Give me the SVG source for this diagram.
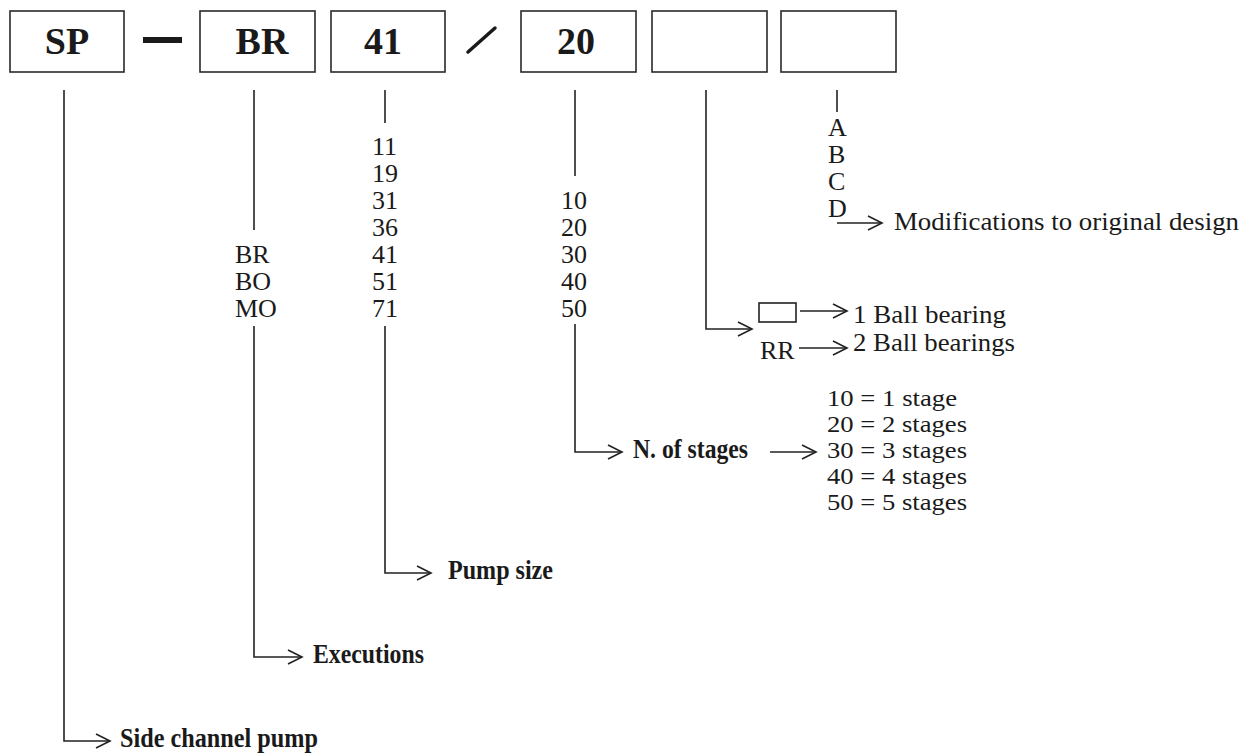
<svg xmlns="http://www.w3.org/2000/svg" width="1256" height="756" viewBox="0 0 1256 756">
<style>
.box{fill:#fff;stroke:#2a2a2a;stroke-width:1.6}
.bt{font-family:"Liberation Serif","Times New Roman",serif;font-weight:bold;font-size:38px;fill:#1a1a1a;text-anchor:middle}
.t{font-family:"Liberation Serif","Times New Roman",serif;font-size:26px;fill:#1a1a1a}
.s{font-family:"Liberation Serif","Times New Roman",serif;font-size:24px;fill:#1a1a1a}
.lb{font-family:"Liberation Serif","Times New Roman",serif;font-weight:bold;font-size:28px;fill:#1a1a1a}
.c{fill:none;stroke:#222;stroke-width:1.6}
</style>
<defs>
<marker id="ah" viewBox="-16 -9 18 18" refX="0" refY="0" markerWidth="18" markerHeight="18" orient="auto" markerUnits="userSpaceOnUse">
<path d="M-14,-7 L0,0 L-14,7" fill="none" stroke="#222" stroke-width="1.6"/>
</marker>
</defs>
<rect width="1256" height="756" fill="#fff"/>

<g id="box-sp"><rect class="box" x="10" y="11" width="114" height="61"/><text class="bt" x="67" y="54">SP</text></g>
<g id="sep-dash"><rect x="143" y="37" width="39" height="6" fill="#1a1a1a"/></g>
<g id="box-br"><rect class="box" x="200" y="11" width="115" height="61"/><text class="bt" x="262" y="54">BR</text></g>
<g id="box-41"><rect class="box" x="331" y="11" width="114" height="61"/><text class="bt" x="383" y="54">41</text></g>
<g id="sep-slash"><line x1="468" y1="52" x2="495" y2="28" stroke="#1a1a1a" stroke-width="3.5" stroke-linecap="round"/></g>
<g id="box-20"><rect class="box" x="521" y="11" width="115" height="61"/><text class="bt" x="576" y="54">20</text></g>
<g id="box-e1"><rect class="box" x="652" y="11" width="115" height="61"/></g>
<g id="box-e2"><rect class="box" x="781" y="11" width="115" height="61"/></g>

<g id="connectors">
<path class="c" d="M64,90 V741 H110" marker-end="url(#ah)"/>
<path class="c" d="M254,90 V230"/>
<path class="c" d="M254,326 V657 H302" marker-end="url(#ah)"/>
<path class="c" d="M385,90 V123"/>
<path class="c" d="M385,326 V573 H431" marker-end="url(#ah)"/>
<path class="c" d="M575,90 V176"/>
<path class="c" d="M575,324 V452 H622" marker-end="url(#ah)"/>
<path class="c" d="M770,452 H816" marker-end="url(#ah)"/>
<path class="c" d="M706,90 V329 H752" marker-end="url(#ah)"/>
<path class="c" d="M800,311 H847" marker-end="url(#ah)"/>
<path class="c" d="M799,348 H847" marker-end="url(#ah)"/>
<path class="c" d="M837,90 V112"/>
<path class="c" d="M837,223 H882" marker-end="url(#ah)"/>
</g>

<g id="exec-options">
<text class="t" x="235" y="263">BR</text>
<text class="t" x="235" y="290">BO</text>
<text class="t" x="235" y="317">MO</text>
</g>
<g id="size-options">
<text class="t" x="372" y="155">11</text>
<text class="t" x="372" y="182">19</text>
<text class="t" x="372" y="209">31</text>
<text class="t" x="372" y="236">36</text>
<text class="t" x="372" y="263">41</text>
<text class="t" x="372" y="290">51</text>
<text class="t" x="372" y="317">71</text>
</g>
<g id="stage-options">
<text class="t" x="561" y="209">10</text>
<text class="t" x="561" y="236">20</text>
<text class="t" x="561" y="263">30</text>
<text class="t" x="561" y="290">40</text>
<text class="t" x="561" y="317">50</text>
</g>
<g id="mod-options">
<text class="t" x="828" y="136">A</text>
<text class="t" x="828" y="163">B</text>
<text class="t" x="828" y="190">C</text>
<text class="t" x="828" y="217">D</text>
</g>
<g id="label-mod"><text class="t" x="894" y="230" textLength="345" lengthAdjust="spacingAndGlyphs">Modifications to original design</text></g>
<g id="bearing-none"><rect x="759" y="303" width="37" height="19" fill="none" stroke="#222" stroke-width="1.6"/></g>
<g id="bearing-rr"><text class="t" x="760" y="359">RR</text></g>
<g id="label-1ball"><text class="t" x="853" y="323" textLength="153" lengthAdjust="spacingAndGlyphs">1 Ball bearing</text></g>
<g id="label-2ball"><text class="t" x="853" y="351" textLength="162" lengthAdjust="spacingAndGlyphs">2 Ball bearings</text></g>
<g id="stage-list">
<text class="s" x="827" y="406" textLength="130" lengthAdjust="spacingAndGlyphs">10 = 1 stage</text>
<text class="s" x="827" y="432" textLength="140" lengthAdjust="spacingAndGlyphs">20 = 2 stages</text>
<text class="s" x="827" y="458" textLength="140" lengthAdjust="spacingAndGlyphs">30 = 3 stages</text>
<text class="s" x="827" y="484" textLength="140" lengthAdjust="spacingAndGlyphs">40 = 4 stages</text>
<text class="s" x="827" y="510" textLength="140" lengthAdjust="spacingAndGlyphs">50 = 5 stages</text>
</g>
<g id="label-stages"><text class="lb" x="633" y="458" textLength="115" lengthAdjust="spacingAndGlyphs">N. of stages</text></g>
<g id="label-size"><text class="lb" x="448" y="579" textLength="105" lengthAdjust="spacingAndGlyphs">Pump size</text></g>
<g id="label-exec"><text class="lb" x="313" y="663" textLength="111" lengthAdjust="spacingAndGlyphs">Executions</text></g>
<g id="label-pump"><text class="lb" x="120" y="747" textLength="198" lengthAdjust="spacingAndGlyphs">Side channel pump</text></g>
</svg>
